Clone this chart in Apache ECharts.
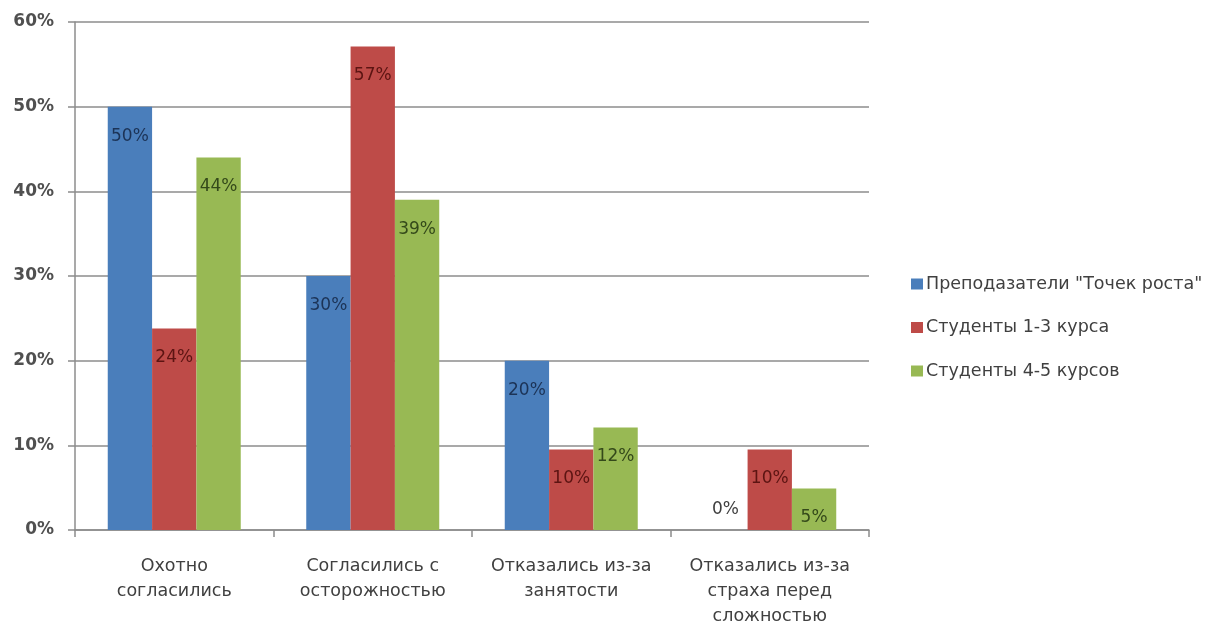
<!DOCTYPE html>
<html>
<head>
<meta charset="utf-8">
<script src="https://cdn.jsdelivr.net/npm/echarts@6/dist/echarts.min.js"></script>
<style>
  html, body { margin: 0; padding: 0; background: #fff; }
  #chart { width: 1229px; height: 629px; }
</style>
</head>
<body>
<div id="chart"></div>
<script>
// категории и значения (в процентах)
const categories = [
  "Охотно\nсогласились",
  "Согласились с\nосторожностью",
  "Отказались из-за\nзанятости",
  "Отказались из-за\nстраха перед\nсложностью"
];
const seriesNames = [
  'Преподазатели "Точек роста"',
  "Студенты 1-3 курса",
  "Студенты 4-5 курсов"
];
const teachers = [50, 30, 20, 0];
const students13 = [23.8, 57.1, 9.5, 9.5];
const students45 = [44, 39, 12.1, 4.9];
const yTicks = [0, 10, 20, 30, 40, 50, 60];

const colors = ["#4a7ebb", "#be4b48", "#98b954"];
const labelColors = ["#1c3356", "#5c1412", "#34491a"];
const font = "DejaVu Sans";

let chart = echarts.init(document.getElementById("chart"));

let series = [teachers, students13, students45].map(function (vals, i) {
  return {
    name: seriesNames[i],
    type: "bar",
    barGap: 0,
    barCategoryGap: "33%",
    itemStyle: { color: colors[i] },
    label: {
      show: true,
      position: "insideTop",
      distance: 21,
      color: labelColors[i],
      fontFamily: font,
      fontSize: 17,
      formatter: function (p) { return Math.round(p.value) + "%"; }
    },
    // нулевой столбик - подпись над осью
    data: vals.map(function (v) {
      return v === 0
        ? { value: v, label: { position: "top", distance: 12, color: "#404040" } }
        : v;
    })
  };
});

let option = {
  animation: false,
  color: colors,
  grid: { left: 75, right: 360, top: 22, bottom: 97, containLabel: false },
  legend: {
    orient: "vertical",
    left: 906,
    top: 270,
    itemWidth: 12,
    itemHeight: 11,
    itemGap: 25.5,
    icon: "rect",
    textStyle: { color: "#404040", fontFamily: font, fontSize: 17.5, padding: [0, 0, 0, -2] },
    data: seriesNames
  },
  xAxis: {
    type: "category",
    data: categories,
    axisLine: { lineStyle: { color: "#8c8c8c", width: 1.5 } },
    axisTick: { show: true, length: 7, lineStyle: { color: "#8c8c8c", width: 1.5 } },
    axisLabel: {
      color: "#404040",
      fontFamily: font,
      fontSize: 17.5,
      lineHeight: 25,
      margin: 24,
      interval: 0
    },
    splitLine: { show: false }
  },
  yAxis: {
    type: "value",
    min: yTicks[0],
    max: yTicks[yTicks.length - 1],
    interval: 10,
    axisLine: { show: true, lineStyle: { color: "#8c8c8c", width: 1.5 } },
    axisTick: { show: true, length: 7, lineStyle: { color: "#8c8c8c", width: 1.5 } },
    axisLabel: {
      color: "#505050",
      fontFamily: font,
      fontSize: 17,
      fontWeight: "bold",
      margin: 21,
      formatter: "{value}%"
    },
    splitLine: { lineStyle: { color: "#8c8c8c", width: 1.5 } }
  },
  series: series
};

chart.setOption(option);
</script>
</body>
</html>
